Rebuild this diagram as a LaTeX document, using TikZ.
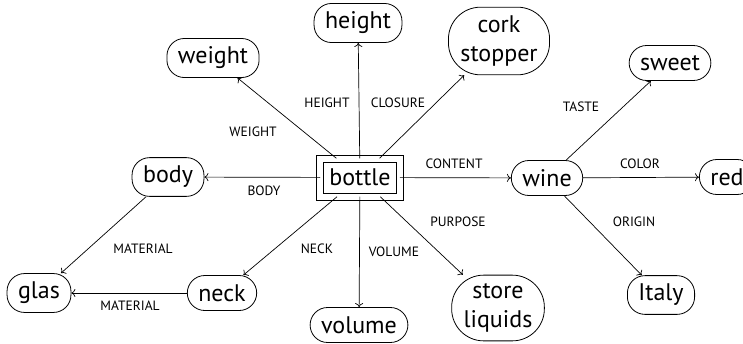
\documentclass[tikz,border=0pt]{standalone}
\usepackage{fontspec}
\setmainfont{PT Sans}
\usetikzlibrary{arrows.meta,calc}
\begin{document}
\begin{tikzpicture}[x=1pt,y=-1pt,
  concept/.style={draw, line width=0.8pt, rounded corners=17.5pt, inner xsep=11pt, inner ysep=8.5pt, minimum height=35pt, font=\fontsize{24}{29}\selectfont, align=center},
  concepttwo/.style={concept, rounded corners=32pt, inner xsep=12pt},
  mainbox/.style={draw, line width=0.8pt, inner xsep=5.5pt, inner ysep=7pt, outer sep=3.7pt, font=\fontsize{24}{29}\selectfont},
  boxline/.style={line width=0.8pt},
  rel/.style={-{To[length=4pt,width=8pt]}, line width=0.7pt},
  lbl/.style={font=\fontsize{13.5}{15}\selectfont, inner sep=1pt}
]
\useasboundingbox (0,0) rectangle (743,343);

\node[mainbox] (bottle) at (360,177.5) {bottle};
\draw[boxline] ($(bottle.north west)+(-3.3pt,3.3pt)$) rectangle ($(bottle.south east)+(3.3pt,-3.3pt)$);
\node[concept] (height) at (358,23) {height};
\node[concepttwo] (cork) at (499,41) {cork\\stopper};
\node[concept] (weight) at (213,58) {weight};
\node[concept] (body) at (168,177) {body};
\node[concept] (glas) at (39,293) {glas};
\node[concept] (neck) at (222,293) {neck};
\node[concept] (volume) at (359,325) {volume};
\node[concepttwo] (store) at (498,308) {store\\liquids};
\node[concept] (wine) at (547,178) {wine};
\node[concept] (sweet) at (670,63) {sweet};
\node[concept] (red) at (727,177) {red};
\node[concept] (italy) at (661,295) {Italy};

\draw[rel] (bottle) -- (height);
\draw[rel] (bottle) -- (cork);
\draw[rel] (bottle) -- (weight);
\draw[rel] (bottle) -- (body);
\draw[rel] (bottle) -- (wine);
\draw[rel] (bottle) -- (neck);
\draw[rel] (bottle) -- (volume);
\draw[rel] (bottle) -- (store);
\draw[rel] (body) -- (glas);
\draw[rel] (neck) -- (glas);
\draw[rel] (wine) -- (sweet);
\draw[rel] (wine) -- (red);
\draw[rel] (wine) -- (italy);

\node[lbl] (lheight) at (327,103) {HEIGHT};
\node[lbl] (lclosure) at (398,103) {CLOSURE};
\node[lbl] (lweight) at (253,132) {WEIGHT};
\node[lbl] (lcontent) at (454,164) {CONTENT};
\node[lbl] (lbody) at (264,191) {BODY};
\node[lbl] (lmat1) at (143,249) {MATERIAL};
\node[lbl] (lmat2) at (130,306) {MATERIAL};
\node[lbl] (lneck) at (317,249) {NECK};
\node[lbl] (lvolume) at (394,252) {VOLUME};
\node[lbl] (lpurpose) at (458,222) {PURPOSE};
\node[lbl] (ltaste) at (581,107) {TASTE};
\node[lbl] (lcolor) at (640,164) {COLOR};
\node[lbl] (lorigin) at (634,222) {ORIGIN};
\end{tikzpicture}
\end{document}
